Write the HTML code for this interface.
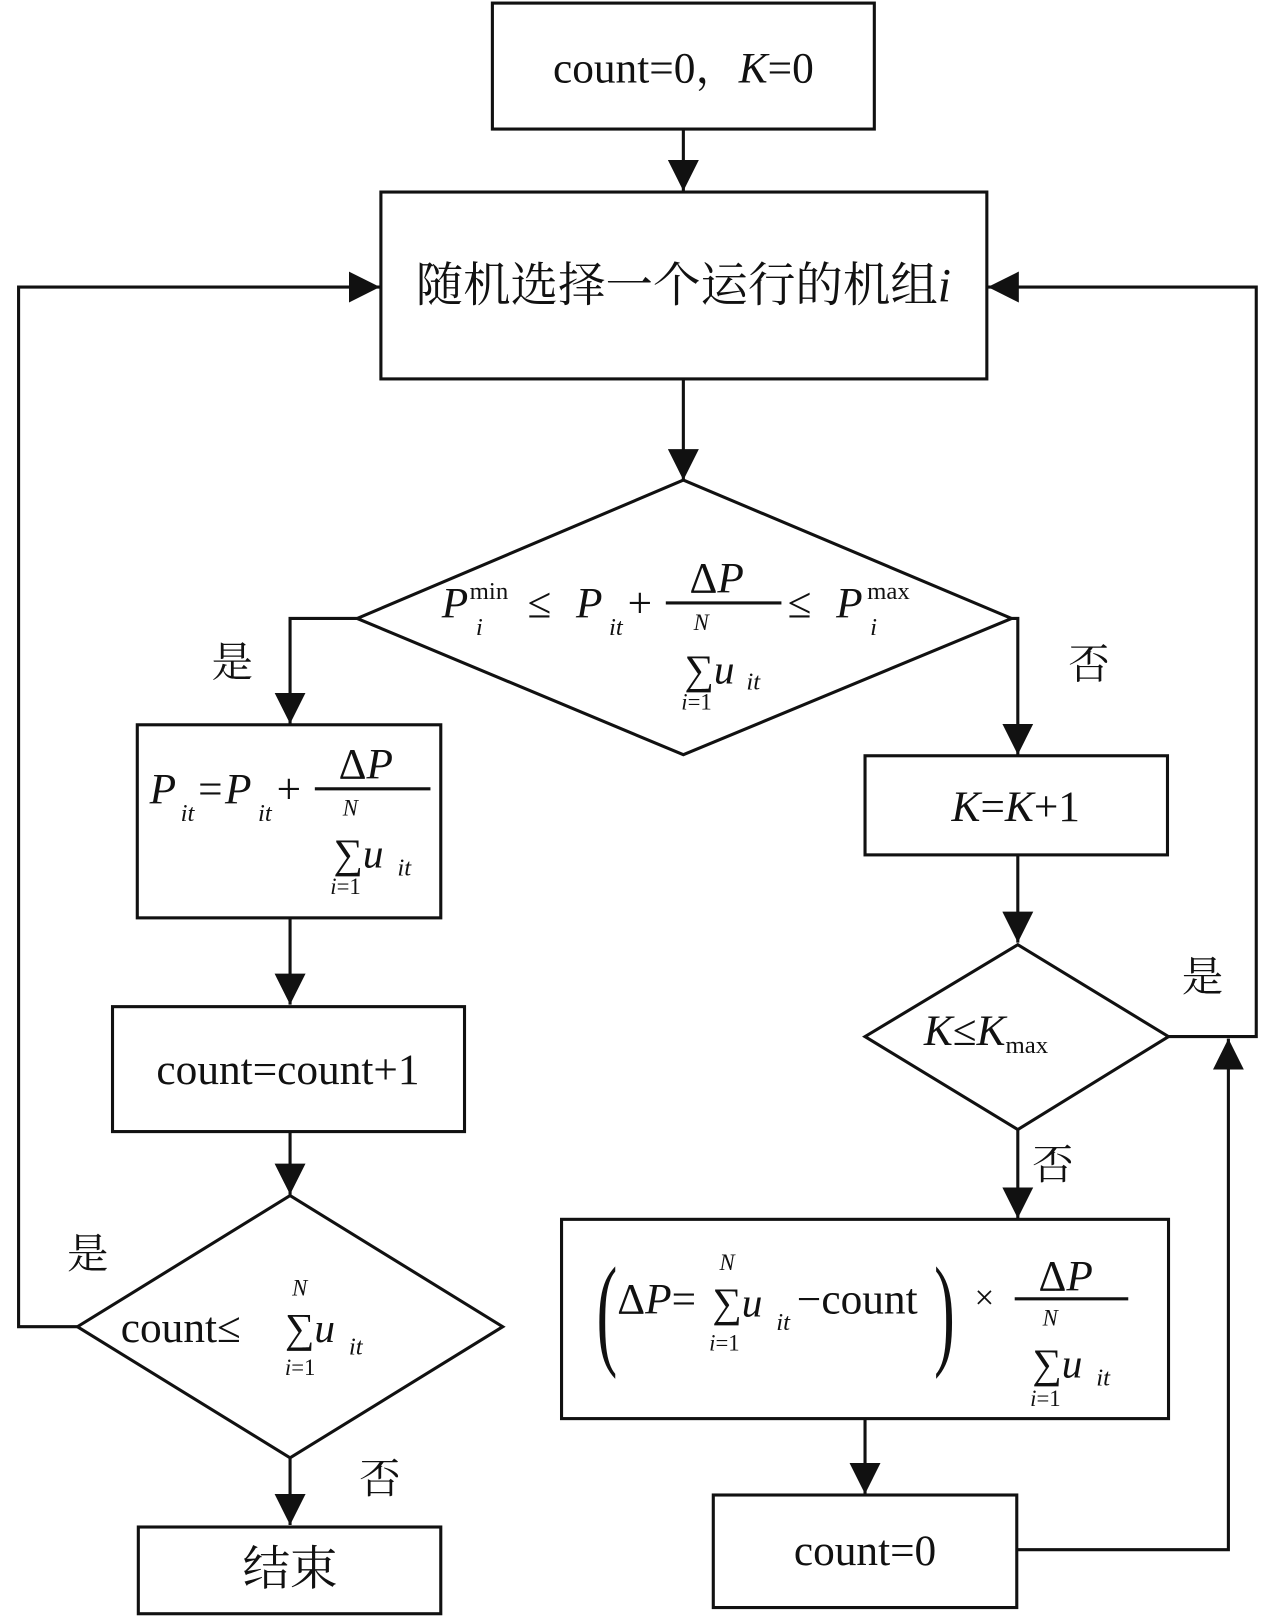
<!DOCTYPE html>
<html><head><meta charset="utf-8"><style>html,body{margin:0;padding:0;background:#fff}svg{display:block}</style></head>
<body>
<svg width="1280" height="1622" viewBox="0 0 1240 1571" preserveAspectRatio="none" xmlns="http://www.w3.org/2000/svg" font-family="'Liberation Serif','Noto Serif CJK SC',serif" fill="#111">
<defs><marker id="a" markerWidth="10" markerHeight="10" refX="9" refY="5" orient="auto" markerUnits="userSpaceOnUse" viewBox="0 0 10 10"><path d="M0,0L10,5L0,10z" fill="#111"/></marker>
<marker id="b" markerWidth="32" markerHeight="30" refX="30" refY="15" orient="auto" markerUnits="userSpaceOnUse"><path d="M0,0L30,15L0,30z" fill="#111"/></marker></defs>
<g stroke="#111" stroke-width="3" fill="none">
<rect x="477" y="3" width="370" height="122"/>
<rect x="369" y="186" width="587" height="181"/>
<polygon points="662,465 980,599 662,731 346,599"/>
<rect x="133" y="702" width="294" height="187"/>
<rect x="109" y="975" width="341" height="121"/>
<polygon points="281,1158 487,1285 281,1412 75,1285"/>
<rect x="134" y="1479" width="293" height="84"/>
<rect x="838" y="732" width="293" height="96"/>
<polygon points="986,915 1132,1004 986,1094 838,1004"/>
<rect x="544" y="1181" width="588" height="193"/>
<rect x="691" y="1448" width="294" height="109"/>
<path d="M662,125V185" marker-end="url(#b)"/>
<path d="M662,367V465" marker-end="url(#b)"/>
<path d="M346,599H281V701" marker-end="url(#b)"/>
<path d="M980,599H986V731" marker-end="url(#b)"/>
<path d="M281,889V973" marker-end="url(#b)"/>
<path d="M281,1096V1157" marker-end="url(#b)"/>
<path d="M281,1412V1477" marker-end="url(#b)"/>
<path d="M986,828V913" marker-end="url(#b)"/>
<path d="M986,1094V1180" marker-end="url(#b)"/>
<path d="M838,1374V1447" marker-end="url(#b)"/>
<path d="M75,1285H18V278H368" marker-end="url(#b)"/>
<path d="M1132,1004H1217V278H957" marker-end="url(#b)"/>
<path d="M985,1501H1190V1006" marker-end="url(#b)"/>
<path d="M645,584H757M305,764H417M983,1258H1093"/>
</g>
<g font-size="42">
<text x="662" y="80" text-anchor="middle">count=0，<tspan font-style="italic">K</tspan>=0</text>
<text x="662" y="292" text-anchor="middle" font-size="46">随机选择一个运行的机组<tspan font-style="italic">i</tspan></text>
<text x="225" y="655" text-anchor="middle" font-size="40">是</text>
<text x="1055" y="657" text-anchor="middle" font-size="40">否</text>
<text x="85" y="1228" text-anchor="middle" font-size="40">是</text>
<text x="368" y="1446" text-anchor="middle" font-size="40">否</text>
<text x="1165" y="960" text-anchor="middle" font-size="40">是</text>
<text x="1020" y="1142" text-anchor="middle" font-size="40">否</text>
<text x="281" y="1535" text-anchor="middle" font-size="46">结束</text>
<text x="279" y="1050" text-anchor="middle">count=count+1</text>
<text x="838" y="1516" text-anchor="middle">count=0</text>
<text x="984" y="795" text-anchor="middle"><tspan font-style="italic">K</tspan>=<tspan font-style="italic">K</tspan>+1</text>
<text x="895" y="1012"><tspan font-style="italic">K</tspan>≤<tspan font-style="italic">K</tspan><tspan font-size="24" dy="8">max</tspan></text>
<!-- diamond1 formula -->
<text x="428" y="598" font-style="italic">P</text><text x="455" y="580" font-size="24">min</text><text x="461" y="615" font-size="24" font-style="italic">i</text>
<text x="511" y="598">≤</text><text x="558" y="598" font-style="italic">P</text><text x="590" y="615" font-size="24" font-style="italic">it</text>
<text x="608" y="598">+</text>
<text x="668" y="574">Δ<tspan font-style="italic">P</tspan></text>
<text x="672" y="610" font-size="22" font-style="italic">N</text>
<text x="663" y="662" font-size="40">∑<tspan font-style="italic">u</tspan></text><text x="723" y="668" font-size="24" font-style="italic">it</text>
<text x="660" y="687" font-size="22"><tspan font-style="italic">i</tspan>=1</text>
<text x="763" y="598">≤</text><text x="810" y="598" font-style="italic">P</text><text x="840" y="580" font-size="24">max</text><text x="843" y="615" font-size="24" font-style="italic">i</text>
<!-- box3 formula -->
<text x="145" y="778" font-style="italic">P</text><text x="175" y="795" font-size="24" font-style="italic">it</text>
<text x="192" y="778">=</text><text x="218" y="778" font-style="italic">P</text><text x="250" y="795" font-size="24" font-style="italic">it</text>
<text x="268" y="778">+</text>
<text x="328" y="754">Δ<tspan font-style="italic">P</tspan></text>
<text x="332" y="790" font-size="22" font-style="italic">N</text>
<text x="323" y="840" font-size="40">∑<tspan font-style="italic">u</tspan></text><text x="385" y="848" font-size="24" font-style="italic">it</text>
<text x="320" y="866" font-size="22"><tspan font-style="italic">i</tspan>=1</text>
<!-- diamond3 -->
<text x="117" y="1300">count≤</text>
<text x="283" y="1255" font-size="22" font-style="italic">N</text>
<text x="276" y="1300" font-size="40">∑<tspan font-style="italic">u</tspan></text><text x="338" y="1312" font-size="24" font-style="italic">it</text>
<text x="276" y="1332" font-size="22"><tspan font-style="italic">i</tspan>=1</text>
<!-- ΔP box -->
<text x="578" y="1310" font-size="120" transform="scale(0.5,1) translate(578,0)" font-weight="normal">(</text>
<text x="598" y="1272">Δ<tspan font-style="italic">P</tspan>=</text>
<text x="697" y="1230" font-size="22" font-style="italic">N</text>
<text x="690" y="1275" font-size="40">∑<tspan font-style="italic">u</tspan></text><text x="752" y="1288" font-size="24" font-style="italic">it</text>
<text x="687" y="1308" font-size="22"><tspan font-style="italic">i</tspan>=1</text>
<text x="772" y="1272">−count</text>
<text x="1810" y="1310" font-size="120" transform="scale(0.5,1)">)</text>
<text x="944" y="1268" font-size="34">×</text>
<text x="1006" y="1250">Δ<tspan font-style="italic">P</tspan></text>
<text x="1010" y="1284" font-size="22" font-style="italic">N</text>
<text x="1000" y="1334" font-size="40">∑<tspan font-style="italic">u</tspan></text><text x="1062" y="1342" font-size="24" font-style="italic">it</text>
<text x="998" y="1362" font-size="22"><tspan font-style="italic">i</tspan>=1</text>
</g>
</svg>
</body></html>
